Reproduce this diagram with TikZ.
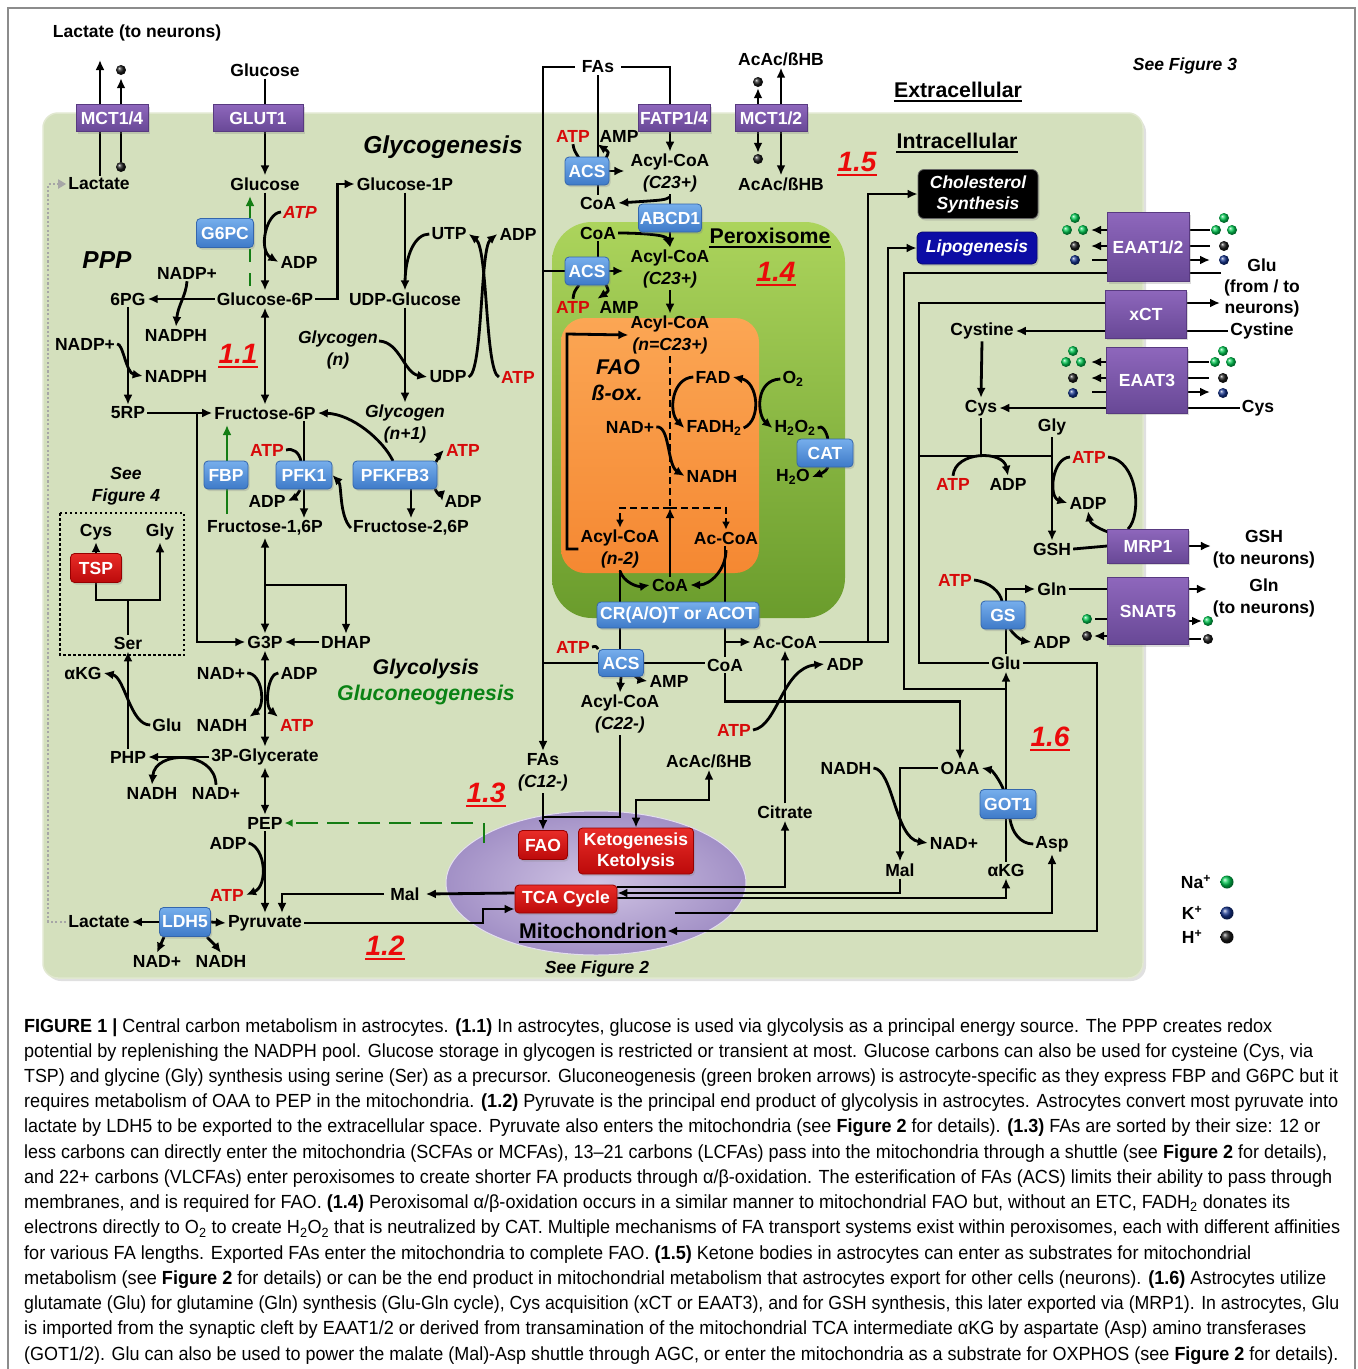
\documentclass[tikz,border=0pt]{standalone}
\usepackage{fontspec}
\setmainfont{Liberation Sans}
\usepackage{graphicx}
\usetikzlibrary{arrows.meta,calc,shadows}
\pgfdeclarelayer{back}
\pgfdeclarelayer{lines}
\pgfsetlayers{back,lines,main}
\definecolor{atpred}{RGB}{215,10,10}
\definecolor{secred}{RGB}{235,10,10}
\definecolor{gng}{RGB}{20,125,20}
\definecolor{gntext}{RGB}{10,130,20}
\definecolor{purpT}{RGB}{142,103,188}
\definecolor{purpB}{RGB}{104,72,150}
\definecolor{purpD}{RGB}{88,58,128}
\definecolor{blueT}{RGB}{118,174,236}
\definecolor{blueB}{RGB}{62,122,200}
\definecolor{blueD}{RGB}{52,102,172}
\definecolor{redT}{RGB}{232,44,40}
\definecolor{redB}{RGB}{188,10,10}
\definecolor{redD}{RGB}{150,0,0}
\definecolor{cellg}{RGB}{212,224,189}
\definecolor{cellD}{RGB}{225,232,208}
\definecolor{peroT}{RGB}{172,212,92}
\definecolor{peroB}{RGB}{106,156,44}
\definecolor{oranT}{RGB}{251,166,84}
\definecolor{oranB}{RGB}{245,136,50}
\definecolor{mitoI}{RGB}{208,196,228}
\definecolor{mitoO}{RGB}{162,144,198}
\definecolor{lipoB}{RGB}{12,12,165}
\definecolor{ballg}{RGB}{0,200,80}
\definecolor{ballb}{RGB}{20,50,140}
\newcommand\szA{\fontsize{17.5pt}{22pt}\selectfont}
\newcommand\szB{\fontsize{21.3pt}{25pt}\selectfont}
\newcommand\szC{\fontsize{24.5pt}{29pt}\selectfont}
\newcommand\szD{\fontsize{28pt}{33pt}\selectfont}
\newcommand\szE{\fontsize{19pt}{23pt}\selectfont}
\newcommand\ulnode[2]{\draw[#2] ([yshift=-3.5pt]#1.base west) -- ([yshift=-3.5pt]#1.base east);}
\newcommand\capline[4]{\node[anchor=base west, inner sep=0pt, font=\szE] (#1) at (24,#2) {\resizebox{#3pt}{\height}{#4}};}
\begin{document}
\begin{tikzpicture}[x=1pt,y=-1pt,
 t/.style={font=\szA\bfseries, inner sep=2pt},
 tt/.style={font=\szA\bfseries, inner sep=2pt, align=center},
 ti/.style={font=\szA\bfseries\itshape, inner sep=2pt},
 tti/.style={font=\szA\bfseries\itshape, inner sep=2pt, align=center},
 tr/.style={t, text=atpred},
 tri/.style={ti, text=atpred},
 sec/.style={font=\szD\bfseries\itshape, text=secred, inner sep=0pt},
 hdr/.style={font=\szB\bfseries, inner sep=0pt},
 big/.style={font=\szC\bfseries\itshape, inner sep=0pt},
 mid/.style={font=\szB\bfseries\itshape, inner sep=0pt},
 ln/.style={line width=2.8pt},
 ar/.style={ln, -{Latex[length=10pt,width=9pt]}},
 ab/.style={ln, {Latex[length=10pt,width=9pt]}-{Latex[length=10pt,width=9pt]}},
 sz/.style 2 args={minimum width=#1pt, minimum height=#2pt},
 shd/.style={drop shadow={opacity=0.28, shadow xshift=1.5pt, shadow yshift=-2pt}},
 pbox/.style={shd, draw=purpD, line width=0.8pt, top color=purpT, bottom color=purpB, text=white, font=\szA\bfseries, inner sep=0pt, align=center},
 bbox/.style={shd, draw=blueD, line width=0.8pt, rounded corners=4pt, top color=blueT, bottom color=blueB, text=white, font=\szA\bfseries, inner sep=0pt},
 rbox/.style={shd, draw=redD, line width=0.8pt, rounded corners=4pt, top color=redT, bottom color=redB, text=white, font=\szA\bfseries, inner sep=0pt, align=center},
 dk/.style={circle, inner sep=0pt, minimum size=10pt, ball color=black!90},
 dg/.style={circle, inner sep=0pt, minimum size=10pt, ball color=ballg},
 db/.style={circle, inner sep=0pt, minimum size=10pt, ball color=ballb},
]
\useasboundingbox (0,0) rectangle (1358,1369);

% ---------- backgrounds ----------
\begin{pgfonlayer}{back}
\fill[white] (0,0) rectangle (1358,1369);
\draw[line width=1.2pt, black!45] (8,1390) -- (8,8) -- (1355,8) -- (1355,1390);
\fill[black!12, rounded corners=15pt] (46,117) rectangle (1146,981);
\draw[rounded corners=15pt, fill=cellg, draw=cellD, line width=1.5pt] (43,113) rectangle (1143,978);
\shade[rounded corners=40pt, top color=peroT, bottom color=peroB] (552,222) rectangle (845,618);
\shade[rounded corners=24pt, top color=oranT, bottom color=oranB] (561,318) rectangle (759,573);
\shade[inner color=mitoI, outer color=mitoO] (596,883) ellipse [x radius=150pt, y radius=72pt];
\draw[white!70!mitoO, line width=1pt] (596,883) ellipse [x radius=150pt, y radius=72pt];
\end{pgfonlayer}

% ---------- left column nodes ----------
\node[t] (lacn) at (137,33) {Lactate (to neurons)};
\node[t] (glcout) at (265,70) {Glucose};
\node[pbox, sz={72}{27}] (mct14) at (112,118) {MCT1/4};
\node[pbox, sz={90}{27}] (glut1) at (258,118) {GLUT1};
\node[t] (lacin) at (99,184) {Lactate};
\node[t] (glc) at (265,184) {Glucose};
\node[t] (g1p) at (405,184) {Glucose-1P};
\node[tri] (atp1) at (300,212) {ATP};
\node[bbox, sz={57}{29}] (g6pc) at (225,233) {G6PC};
\node[t] (adp1) at (299,262) {ADP};
\node[big] (ppp) at (107,260) {PPP};
\node[t] (nadp1) at (187,273) {NADP+};
\node[t] (pg6) at (128,299) {6PG};
\node[t] (g6p) at (265,299) {Glucose-6P};
\node[t] (udpg) at (405,299) {UDP-Glucose};
\node[t] (utp) at (449,234) {UTP};
\node[t] (adp2) at (518,234) {ADP};
\node[t] (nadph1) at (176,335) {NADPH};
\node[t] (nadp2) at (85,344) {NADP+};
\node[t] (nadph2) at (176,376) {NADPH};
\node[sec] (l11) at (238,354) {1.1};
\node[tti] (glyn) at (338,350) {Glycogen\\(n)};
\node[t] (udp) at (448,377) {UDP};
\node[tr] (atp2) at (518,377) {ATP};
\node[t] (rp5) at (128,413) {5RP};
\node[t] (f6p) at (265,413) {Fructose-6P};
\node[tti] (glyn1) at (405,424) {Glycogen\\(n+1)};
\node[tr] (atp3) at (267,450) {ATP};
\node[tr] (atp4) at (463,450) {ATP};
\node[bbox, sz={44}{28}] (fbp) at (226,475) {FBP};
\node[bbox, sz={56}{28}] (pfk1) at (304,475) {PFK1};
\node[bbox, sz={84}{28}] (pfkfb3) at (395,475) {PFKFB3};
\node[tti] (see4) at (126,486) {See\\Figure 4};
\node[t] (adp3) at (267,501) {ADP};
\node[t] (adp4) at (463,501) {ADP};
\node[t] (f16p) at (265,528) {Fructose-1,6P};
\node[t] (f26p) at (411,528) {Fructose-2,6P};
\node[t] (cys1) at (96,532) {Cys};
\node[t] (gly1) at (160,532) {Gly};
\node[rbox, sz={51}{29}] (tsp) at (96,568) {TSP};
\node[t] (ser) at (128,643) {Ser};
\node[t] (g3p) at (265,642) {G3P};
\node[t] (dhap) at (346,642) {DHAP};
\node[t] (akg1) at (83,673) {αKG};
\node[t] (nad1) at (221,673) {NAD+};
\node[t] (adp5) at (299,673) {ADP};
\node[t] (glu1) at (167,725) {Glu};
\node[t] (nadh3) at (222,725) {NADH};
\node[tr] (atp5) at (297,725) {ATP};
\node[t] (php) at (128,757) {PHP};
\node[t] (pg3) at (265,757) {3P-Glycerate};
\node[t] (nadh4) at (152,793) {NADH};
\node[t] (nad2) at (216,793) {NAD+};
\node[t] (pep) at (265,823) {PEP};
\node[t] (adp6) at (228,843) {ADP};
\node[tr] (atp6) at (227,895) {ATP};
\node[t] (lacb) at (99,922) {Lactate};
\node[bbox, sz={51}{29}] (ldh5) at (185,922) {LDH5};
\node[t] (pyr) at (265,923) {Pyruvate};
\node[t] (nad3) at (157,961) {NAD+};
\node[t] (nadh5) at (221,961) {NADH};
\node[sec] (l12) at (385,946) {1.2};
\node[mid] (glycol) at (426,669) {Glycolysis};
\node[mid, text=gntext] (gneo) at (426,695) {Gluconeogenesis};
\node[big] (glycog) at (443,147) {Glycogenesis};
\node[t, inner xsep=6pt] (mal1) at (405,894) {Mal};

% ---------- middle nodes ----------
\node[t, inner xsep=7pt] (fas) at (598,67) {FAs};
\node[pbox, sz={72}{27}] (fatp) at (674,118) {FATP1/4};
\node[tr] (atp7) at (573,136) {ATP};
\node[t] (amp1) at (619,136) {AMP};
\node[bbox, sz={44}{28}] (acs1) at (587,171) {ACS};
\node[tt] (acyl1) at (670,173) {Acyl-CoA\\\textit{(C23+)}};
\node[t] (coa1) at (598,203) {CoA};
\node[bbox, sz={63}{28}] (abcd1) at (670,218) {ABCD1};
\node[t] (coa2) at (598,233) {CoA};
\node[hdr] (perox) at (770,236) {Peroxisome};
\node[bbox, sz={44}{28}] (acs2) at (587,271) {ACS};
\node[tt] (acyl2) at (670,269) {Acyl-CoA\\\textit{(C23+)}};
\node[sec] (l14) at (776,272) {1.4};
\node[tr] (atp8) at (573,307) {ATP};
\node[t] (amp2) at (619,307) {AMP};
\node[tt] (acyl3) at (670,335) {Acyl-CoA\\\textit{(n=C23+)}};
\node[mid] (faot) at (618,367) {FAO};
\node[mid] (box) at (617,393) {ß-ox.};
\node[t] (fad) at (713,377) {FAD};
\node[t] (o2) at (793,379) {O\textsubscript{2}};
\node[t] (nad4) at (630,427) {NAD+};
\node[t] (fadh2) at (714,428) {FADH\textsubscript{2}};
\node[t] (h2o2) at (795,428) {H\textsubscript{2}O\textsubscript{2}};
\node[bbox, sz={56}{28}] (cat) at (825,453) {CAT};
\node[t] (nadh6) at (712,476) {NADH};
\node[t] (h2o) at (793,477) {H\textsubscript{2}O};
\node[tt] (acyl4) at (620,549) {Acyl-CoA\\\textit{(n-2)}};
\node[t] (accoa1) at (726,538) {Ac-CoA};
\node[t] (coa3) at (670,585) {CoA};
\node[bbox, sz={162}{26}] (crat) at (678,615) {CR(A/O)T or ACOT};
\node[tr] (atp9) at (573,647) {ATP};
\node[bbox, sz={45}{27}] (acs3) at (621,663) {ACS};
\node[t] (accoa2) at (785,642) {Ac-CoA};
\node[t] (coa4) at (725,665) {CoA};
\node[t] (amp3) at (669,681) {AMP};
\node[t] (adp7) at (845,664) {ADP};
\node[tt] (acyl5) at (620,714) {Acyl-CoA\\\textit{(C22-)}};
\node[tr] (atp10) at (734,730) {ATP};
\node[tt] (fas2) at (543,772) {FAs\\\textit{(C12-)}};
\node[t] (acac2) at (709,761) {AcAc/ßHB};
\node[sec] (l13) at (486,793) {1.3};
\node[t] (citrate) at (785,812) {Citrate};
\node[rbox, sz={49}{29}] (faobox) at (543,845) {FAO};
\node[rbox, sz={115}{46}, font=\fontsize{17.5pt}{21pt}\selectfont\bfseries] (keto) at (636,851) {Ketogenesis\\Ketolysis};
\node[rbox, sz={102}{28}] (tca) at (566,899) {TCA Cycle};
\node[hdr] (mitotxt) at (593,931) {Mitochondrion};
\node[ti] (see2) at (597,969) {See Figure 2};

% ---------- right nodes ----------
\node[t] (acac1) at (781,59) {AcAc/ßHB};
\node[pbox, sz={72}{27}] (mct12) at (771,118) {MCT1/2};
\node[dk] (dk3) at (758,82) {};
\node[dk] (dk4) at (758,159) {};
\node[t] (acac3) at (781,184) {AcAc/ßHB};
\node[sec] (l15) at (857,162) {1.5};
\node[hdr] (extra) at (958,90) {Extracellular};
\node[hdr] (intra) at (957,141) {Intracellular};
\node[ti] (see3) at (1185,66) {See Figure 3};
\node[shd, draw=black!60, line width=0.8pt, fill=black, rounded corners=6pt, sz={120}{49}, text=white, font=\fontsize{17.5pt}{21pt}\selectfont\bfseries\itshape, align=center, inner sep=0pt] (chol) at (978,194) {Cholesterol\\Synthesis};
\node[shd, draw=lipoB!70!black, line width=0.8pt, fill=lipoB, rounded corners=5pt, sz={120}{32}, text=white, font=\szA\bfseries\itshape, inner sep=0pt] (lipo) at (977,248) {Lipogenesis};
\node[pbox, sz={82}{69}] (eaat12) at (1148,247) {EAAT1/2};
\node[font=\fontsize{17.5pt}{21pt}\selectfont\bfseries, align=center, inner sep=2pt] (glutxt) at (1262,288) {Glu\\(from / to\\neurons)};
\node[pbox, sz={81}{48}] (xct) at (1146,314) {xCT};
\node[t] (cystine1) at (982,331) {Cystine};
\node[t] (cystine2) at (1262,331) {Cystine};
\node[pbox, sz={81}{66}] (eaat3) at (1147,380) {EAAT3};
\node[t] (cys2) at (981,408) {Cys};
\node[t] (cys3) at (1258,408) {Cys};
\node[t] (gly2) at (1052,427) {Gly};
\node[tr] (atp11) at (1089,457) {ATP};
\node[tr] (atp12) at (953,484) {ATP};
\node[t] (adp8) at (1008,484) {ADP};
\node[t] (adp9) at (1088,503) {ADP};
\node[t] (gsh1) at (1052,549) {GSH};
\node[pbox, sz={81}{34}] (mrp1) at (1148,546) {MRP1};
\node[tt] (gsh2) at (1264,549) {GSH\\(to neurons)};
\node[tr] (atp13) at (955,580) {ATP};
\node[t] (gln1) at (1052,589) {Gln};
\node[bbox, sz={44}{28}] (gs) at (1003,615) {GS};
\node[pbox, sz={81}{67}] (snat5) at (1148,611) {SNAT5};
\node[tt] (gln2) at (1264,598) {Gln\\(to neurons)};
\node[t] (adp10) at (1052,642) {ADP};
\node[t] (glu2) at (1006,663) {Glu};
\node[sec] (l16) at (1050,737) {1.6};
\node[t] (nadh7) at (846,768) {NADH};
\node[t] (oaa) at (960,768) {OAA};
\node[bbox, sz={56}{29}] (got1) at (1008,804) {GOT1};
\node[t] (nad5) at (954,843) {NAD+};
\node[t] (asp) at (1052,844) {Asp};
\node[t] (mal2) at (900,870) {Mal};
\node[t] (akg2) at (1006,870) {αKG};

% ion dots
\node[dk] (dk1) at (121,70) {};
\node[dk] (dk2) at (121,167) {};
\node[dg] (eg1) at (1075,218) {}; \node[dg] (eg2) at (1067,230) {}; \node[dg] (eg3) at (1083,230) {};
\node[dk] (ek1) at (1075,246) {}; \node[db] (eb1) at (1075,260) {};
\node[dg] (eg4) at (1224,218) {}; \node[dg] (eg5) at (1216,230) {}; \node[dg] (eg6) at (1232,230) {};
\node[dk] (ek2) at (1224,246) {}; \node[db] (eb2) at (1224,260) {};
\node[dg] (fg1) at (1073,351) {}; \node[dg] (fg2) at (1066,362) {}; \node[dg] (fg3) at (1081,362) {};
\node[dk] (fk1) at (1073,378) {}; \node[db] (fb1) at (1073,393) {};
\node[dg] (fg4) at (1223,351) {}; \node[dg] (fg5) at (1215,362) {}; \node[dg] (fg6) at (1231,362) {};
\node[dk] (fk2) at (1223,378) {}; \node[db] (fb2) at (1223,393) {};
\node[dg] (sg1) at (1087,619) {}; \node[dk] (sk1) at (1087,636) {};
\node[dg] (sg2) at (1208,621) {}; \node[dk] (sk2) at (1208,639) {};
% legend
\node[t] (lna) at (1196,882) {Na\textsuperscript{+}};
\node[t] (lk) at (1192,913) {K\textsuperscript{+}};
\node[t] (lh) at (1192,937) {H\textsuperscript{+}};
\node[dg, minimum size=13pt] (lgn) at (1227,882) {};
\node[db, minimum size=13pt] (lgk) at (1227,913) {};
\node[dk, minimum size=13pt] (lgh) at (1227,937) {};

% underlines
\ulnode{l11}{secred, line width=2.2pt}
\ulnode{l12}{secred, line width=2.2pt}
\ulnode{l13}{secred, line width=2.2pt}
\ulnode{l14}{secred, line width=2.2pt}
\ulnode{l15}{secred, line width=2.2pt}
\ulnode{l16}{secred, line width=2.2pt}
\ulnode{extra}{line width=1.8pt}
\ulnode{intra}{line width=1.8pt}
\ulnode{perox}{line width=1.8pt}
\ulnode{mitotxt}{line width=1.8pt}

% ---------- connectors ----------
\begin{pgfonlayer}{lines}
% MCT1/4 and GLUT1
\coordinate (lacup) at (100,60);
\draw[ar] (lacin.north -| lacup) -- (lacup);
\draw[ar, shorten >=3pt] (dk2) -- (dk1);
\draw[ar] (glcout.south) -- (glc.north);
% glucose -> G6P
\draw[ar] (glc.south) -- (g6p.north);
\draw[ar] (atp1.west) .. controls (266,213) and (258,250) .. (adp1.west);
\coordinate (gr1) at (250,286); \coordinate (gr2) at (250,196);
\draw[ln, gng, dash pattern=on 13pt off 11pt] (gr1) -- (g6pc.south -| gr1);
\draw[ar, gng] (g6pc.north -| gr1) -- (gr2);
% PPP
\draw[ar] (g6p.west) -- (pg6.east);
\draw[ar] (nadp1.south) .. controls (186,296) and (178,305) .. (nadph1.north);
\draw[ar] (pg6.south) -- (rp5.north);
\draw[ar] (nadp2.east) .. controls (123,343) and (126,373) .. (nadph2.west);
% glycogen
\draw[ar] (g6p.east) -- ++(22,0) |- (g1p.west);
\draw[ar] (g1p.south) -- (udpg.north);
\draw[ln] (utp.west) .. controls (415,234) and (405,255) .. (405,284);
\draw[ar] (udpg.south) -- (glyn1.north);
\draw[ar] (379,341) .. controls (400,342) and (404,373) .. (udp.west);
\draw[ar] (udp.east) .. controls (483,372) and (480,248) .. (adp2.west);
\draw[ar] (atp2.west) .. controls (485,372) and (488,248) .. (utp.east);
% glycolysis upper
\draw[ab] (g6p.south) -- (f6p.north);
\draw[ar] (rp5.east) -- (f6p.west);
\coordinate (j1) at (197,413);
\draw[ar] (j1) |- (g3p.west);
\coordinate (fb1) at (227,514); \coordinate (fb2) at (227,425);
\draw[ln, gng] (fb1) -- (fbp.south -| fb1);
\draw[ar, gng] (fbp.north -| fb1) -- (fb2);
\draw[ar] (f6p.south -| pfk1) -- (f16p.north -| pfk1);
\draw[ln] (atp3.east) .. controls (293,448) and (299,452) .. (301,461);
\draw[ar] (300,490) .. controls (297,496) and (292,499) .. (adp3.east);
\draw[ar] (f26p.west) .. controls (339,516) and (342,485) .. (pfk1.east);
\draw[ar] (393,461) .. controls (383,440) and (352,414) .. (f6p.east);
\draw[ar] (pfkfb3.south -| f26p) -- (f26p.north);
\draw[ar] (436,462) .. controls (439,456) and (442,452) .. (atp4.west);
\draw[ar] (435,489) .. controls (438,495) and (442,499) .. (adp4.west);
\draw[ab] (f16p.south) -- (g3p.north);
\coordinate (j2) at (265,585);
\draw[ar] (j2) -| (dhap.north);
\draw[ar] (dhap.west) -- (g3p.east);
% glycolysis lower
\draw[ab] (g3p.south) -- (pg3.north);
\draw[ar] (nad1.east) .. controls (262,673) and (266,705) .. (nadh3.north east);
\draw[ar] (adp5.west) .. controls (268,673) and (264,705) .. (atp5.north west);
\draw[ar] (pg3.west) -- (php.east);
\draw[ar] (nad2.north) .. controls (215,750) and (155,750) .. (nadh4.north);
\draw[ar] (php.north) -- (ser.south);
\draw[ar] (glu1.west) .. controls (130,725) and (125,677) .. (akg1.east);
\coordinate (sj) at (128,600);
\draw[ln] (ser.north) -- (sj);
\draw[ln] (tsp.south) |- (sj);
\draw[ar] (sj) -| (gly1.south);
\draw[ar] (tsp.north) -- (cys1.south);
\draw[line width=2.5pt, dash pattern=on 2.5pt off 2.5pt] (60,513) rectangle (184,655);
\draw[ab] (pg3.south) -- (pep.north);
\coordinate (gd1) at (484,843); \coordinate (gd2) at (484,823);
\draw[ln, gng] (gd1) -- (gd2);
\draw[ln, gng, dash pattern=on 22pt off 9pt, -{Latex[length=8pt,width=8pt]}] ($(gd2)+(-11,0)$) -- (pep.east);
\draw[ar] (pep.south) -- (pyr.north);
\draw[ar] (adp6.east) .. controls (266,848) and (268,886) .. (atp6.east);
\draw[ar] (ldh5.west) -- (lacb.east);
\draw[ar] (ldh5.east) -- (pyr.west);
\draw[ar] (164,937) -- (nad3.north);
\draw[ar] (207,937) .. controls (212,941) .. (nadh5.north);
\draw[line width=2.2pt, black!35, dash pattern=on 2.2pt off 2.2pt, -{Triangle[length=8pt,width=9pt]}] (lacb.west) -| (48,184) -- (lacin.west);
% pyruvate / Mal / TCA
\coordinate (pj) at (483,923);
\draw[ar] (pyr.east) -- (pj) |- ($(tca.west)+(0,10)$);
\draw[ar] ($(tca.west)+(0,-6)$) -- (mal1.east);
\draw[ar] (mal1.west) -| ($(pyr.north)+(17,0)$);
% FAs routes
\draw[ar] (fas.west) -| (fas2.north);
\draw[ar] (fas2.south) -- (faobox.north);
\draw[ln] (acyl5.south) |- (fas2.south |- 0,817);
\draw[ln] (acs2.west -| fas2) -- (acs2.west);
\draw[ln] (acs3.west -| fas2) -- (acs3.west);
\draw[ln] (fas.south) -- (acs1.north -| fas.south);
\draw[ln] (acs1.south -| fas.south) -- (coa1.north);
\draw[ln] (atp7.south) .. controls (574,150) .. (579,158);
\draw[ar] (606,158) .. controls (609,152) .. (amp1.south west);
\draw[ar] (acs1.east) -- ++(15,0);
\draw[ar] (fas.east) -| (acyl1.north);
\draw[ar] (acyl1.south) -- (acyl2.north);
\draw[ar] (670,197) .. controls (665,200) .. (coa1.east);
\draw[ar] (coa2.east) .. controls (642,233) and (666,235) .. (670,247);
\draw[ln] (coa2.south) -- (acs2.north -| coa2);
\draw[ar] (acs2.east) -- ++(14,0);
\draw[ln] (atp8.north) .. controls (574,292) .. (579,285);
\draw[ar] (606,285) .. controls (609,291) .. (amp2.north west);
\draw[ar] (acyl2.south) -- (acyl3.north);
% beta oxidation
\draw[ar] (acyl4.west) -| (567,334) -- (acyl3.west);
\coordinate (dj) at (670,508);
\draw[ln, dash pattern=on 7pt off 4pt] (acyl3.south) -- (dj);
\draw[ln, dash pattern=on 7pt off 4pt, -{Latex[length=8pt,width=8pt]}] (dj) -| (acyl4.north);
\draw[ln, dash pattern=on 7pt off 4pt, -{Latex[length=8pt,width=8pt]}] (dj) -| (accoa1.north);
\draw[ar] (coa3.north) -- (dj);
\draw[ar] (620,571) .. controls (624,583) and (638,587) .. (coa3.west);
\draw[ar] (726,550) .. controls (726,570) and (710,585) .. (coa3.east);
\draw[ln] (acyl4.south) -- (acs3.north -| acyl4);
\draw[ln] (accoa1.south -| coa4) -- (coa4.north);
\coordinate (acj) at (725,642);
\draw[ar] (acj) -- (accoa2.west);
\draw[ar] (fad.west) .. controls (672,378) and (668,412) .. (fadh2.west);
\draw[ar] (fadh2.east) .. controls (762,420) and (758,382) .. (fad.east);
\draw[ar] (o2.west) .. controls (755,380) and (757,415) .. (h2o2.west);
\draw[ln] (h2o2.east) .. controls (822,424) and (827,432) .. (828,440);
\draw[ar] (828,467) .. controls (826,472) and (820,474) .. (h2o.east);
\draw[ar] (nad4.east) .. controls (670,425) and (667,465) .. (nadh6.west);
% mito ACS
\draw[ln] (atp9.east) .. controls (596,646) .. (acs3.north west);
\draw[ln] (acs3.east) -- (acs3.east -| coa4.west);
\draw[ar] (acs3.south) -- (acyl5.north);
\draw[ar] (635,676) .. controls (640,680) .. (amp3.west);
% Ac-CoA exits
\coordinate (cj1) at (868,642); \coordinate (cj2) at (888,642);
\draw[ar] (accoa2.east) -- (cj1) |- (chol.west);
\draw[ar] (cj1) -- (cj2) |- (lipo.west);
\draw[ar] (citrate.north) -- (accoa2.south);
\draw[ar] (atp10.east) .. controls (778,726) and (782,668) .. (adp7.west);
\draw[ar] (coa4.south) -- ++(0,28) -| (oaa.north);
% TCA outputs
\draw[ar] ($(tca.east)+(0,-12)$) -| (citrate.south);
\draw[ar] (mal2.south) |- ($(tca.east)+(0,-6)$);
\draw[ar] ($(tca.east)+(0,-1)$) -| (akg2.south);
\coordinate (ma1) at (675,913);
\draw[ar] (ma1) -| (asp.south);
\coordinate (gj) at (1097,663);
\draw[ar] (glu2.east) -- (gj) |- (mitotxt.east);
\draw[ar] (oaa.west) -| (mal2.north);
\draw[ar] (nadh7.east) .. controls (893,769) and (895,838) .. (nad5.west);
\draw[ln] (akg2.north) -- (got1.south -| akg2);
\draw[ar] (got1.north -| akg2) -- (glu2.south);
\draw[ar] (1004,791) .. controls (1000,780) and (992,770) .. (oaa.east);
\draw[ln] (asp.west) .. controls (1020,844) and (1012,832) .. (1010,819);
\coordinate (kj) at (636,800);
\draw[ab] (keto.north) -- (kj) -| (acac2.south);
% MCT1/2
\draw[ar, shorten >=1pt] (mct12.north -| dk3) -- (dk3.south);
\draw[ar, shorten >=1pt] (mct12.south -| dk4) -- (dk4.north);
\draw[ab] (acac3.north) -- (acac1.south);
% EAAT1/2, xCT
\coordinate (ge1) at (1221,273); \coordinate (ge2) at (904,689);
\draw[ln] (ge1) -- (904,273) -- (ge2) -- (ge2 -| glu2);
\coordinate (xo) at (1220,303);
\draw[ar] (glu2.west) -| (919,303) -- (xo);
\draw[ar] (cystine2.west) -- (cystine1.east);
\draw[ar] (cystine1.south) -- (cys2.north);
\draw[ar] (cys3.west) -- (cys2.east);
\coordinate (cj3) at (981,456);
\coordinate (cj4) at (919,456);
\draw[ln] (cys2.south) -- (cj3);
\draw[ln] (cj4) -- (cj4 -| gly2);
\draw[ar] (gly2.south) -- (gsh1.north);
\draw[ar] (atp12.north) .. controls (955,451) and (1003,450) .. (adp8.north);
\draw[ar] (atp11.west) .. controls (1052,458) and (1048,497) .. (adp9.west);
\draw[ln] (atp11.east) .. controls (1138,460) and (1142,515) .. (1128,529);
\draw[ar] (1108,532) .. controls (1097,528) and (1090,523) .. (adp9.south);
\draw[ln] (gsh1.east) -- (mrp1.west);
\draw[ar] (mrp1.east) -- ++(22,0);
% GS, SNAT5
\draw[ln] (atp13.east) .. controls (990,582) and (1000,592) .. (1002,601);
\draw[ar] (gs.north -| glu2) |- (gln1.west);
\draw[ar] (1010,629) .. controls (1016,638) and (1024,641) .. (adp10.west);
\draw[ln] (glu2.north) -- (gs.south -| glu2);
\draw[ln] (gln1.east) -- (snat5.west |- gln1);
\draw[ar] (snat5.east |- gln1) -- ++(18,0);
% ion lines
\foreach \yy in {230,246}{
  \draw[ar] (1107,\yy) -- (1091,\yy);
  \draw[ln] (1189,\yy) -- (1210,\yy);
}
\draw[ln] (1092,260) -- (1107,260);
\draw[ar] (1189,260) -- (1210,260);
\foreach \yy in {362,378}{
  \draw[ar] (1107,\yy) -- (1091,\yy);
  \draw[ln] (1188,\yy) -- (1209,\yy);
}
\draw[ln] (1092,392) -- (1107,392);
\draw[ar] (1188,392) -- (1210,392);
\draw[ln] (1095,619) -- (1108,619);
\draw[ar] (1108,636) -- (1094,636);
\draw[ar] (1188,621) -- (1202,621);
\draw[ln] (1201,639) -- (1188,639);
\end{pgfonlayer}

% ---------- caption ----------
\capline{c1}{1032}{1248}{\textbf{FIGURE 1 |} Central carbon metabolism in astrocytes. \textbf{(1.1)} In astrocytes, glucose is used via glycolysis as a principal energy source. The PPP creates redox}
\capline{c2}{1057.2}{1289}{potential by replenishing the NADPH pool. Glucose storage in glycogen is restricted or transient at most. Glucose carbons can also be used for cysteine (Cys, via}
\capline{c3}{1082.5}{1314}{TSP) and glycine (Gly) synthesis using serine (Ser) as a precursor. Gluconeogenesis (green broken arrows) is astrocyte-specific as they express FBP and G6PC but it}
\capline{c4}{1107.7}{1314}{requires metabolism of OAA to PEP in the mitochondria. \textbf{(1.2)} Pyruvate is the principal end product of glycolysis in astrocytes. Astrocytes convert most pyruvate into}
\capline{c5}{1132.9}{1296}{lactate by LDH5 to be exported to the extracellular space. Pyruvate also enters the mitochondria (see \textbf{Figure 2} for details). \textbf{(1.3)} FAs are sorted by their size: 12 or}
\capline{c6}{1158.2}{1303}{less carbons can directly enter the mitochondria (SCFAs or MCFAs), 13–21 carbons (LCFAs) pass into the mitochondria through a shuttle (see \textbf{Figure 2} for details),}
\capline{c7}{1183.4}{1308}{and 22+ carbons (VLCFAs) enter peroxisomes to create shorter FA products through α/β-oxidation. The esterification of FAs (ACS) limits their ability to pass through}
\capline{c8}{1208.6}{1266}{membranes, and is required for FAO. \textbf{(1.4)} Peroxisomal α/β-oxidation occurs in a similar manner to mitochondrial FAO but, without an ETC, FADH\textsubscript{2} donates its}
\capline{c9}{1233.8}{1316}{electrons directly to O\textsubscript{2} to create H\textsubscript{2}O\textsubscript{2} that is neutralized by CAT. Multiple mechanisms of FA transport systems exist within peroxisomes, each with different affinities}
\capline{c10}{1259.1}{1227}{for various FA lengths. Exported FAs enter the mitochondria to complete FAO. \textbf{(1.5)} Ketone bodies in astrocytes can enter as substrates for mitochondrial}
\capline{c11}{1284.3}{1302}{metabolism (see \textbf{Figure 2} for details) or can be the end product in mitochondrial metabolism that astrocytes export for other cells (neurons). \textbf{(1.6)} Astrocytes utilize}
\capline{c12}{1309.5}{1315}{glutamate (Glu) for glutamine (Gln) synthesis (Glu-Gln cycle), Cys acquisition (xCT or EAAT3), and for GSH synthesis, this later exported via (MRP1). In astrocytes, Glu}
\capline{c13}{1334.8}{1282}{is imported from the synaptic cleft by EAAT1/2 or derived from transamination of the mitochondrial TCA intermediate αKG by aspartate (Asp) amino transferases}
\capline{c14}{1360}{1314}{(GOT1/2). Glu can also be used to power the malate (Mal)-Asp shuttle through AGC, or enter the mitochondria as a substrate for OXPHOS (see \textbf{Figure 2} for details).}
\end{tikzpicture}
\end{document}
